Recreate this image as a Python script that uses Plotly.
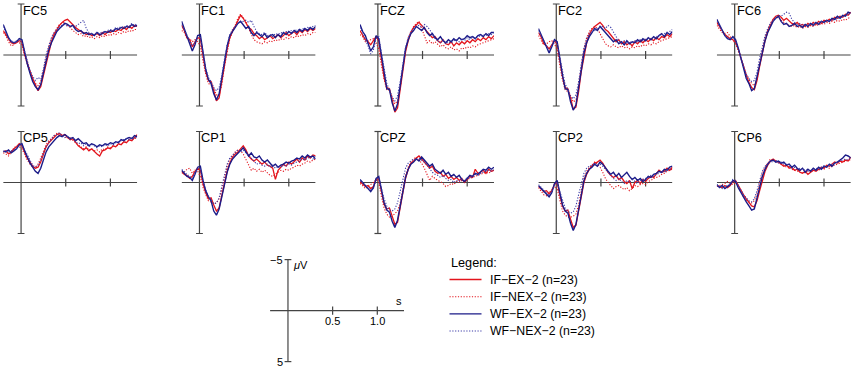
import plotly.graph_objects as go

# ---------------- data ----------------
T = [-0.20, -0.17, -0.14, -0.11, -0.08, -0.05, -0.02, 0.01, 0.04, 0.07, 0.10, 0.13, 0.16,
     0.19, 0.22, 0.25, 0.28, 0.31, 0.34, 0.37, 0.40, 0.43, 0.46, 0.49, 0.52, 0.55, 0.58,
     0.61, 0.64, 0.67, 0.70, 0.73, 0.76, 0.79, 0.82, 0.85, 0.88, 0.91, 0.94, 0.97, 1.00,
     1.03, 1.06, 1.09, 1.12, 1.15, 1.18, 1.21, 1.24, 1.27, 1.30]

CHANNELS = ["FC5", "FC1", "FCZ", "FC2", "FC6", "CP5", "CP1", "CPZ", "CP2", "CP6"]
CONDITIONS = ["IF\u2212EX\u22122 (n=23)", "IF\u2212NEX\u22122 (n=23)",
              "WF\u2212EX\u22122 (n=23)", "WF\u2212NEX\u22122 (n=23)"]

FC5_IF_EX = [-2.4, -2.0, -1.6, -1.2, -1.1, -1.2, -1.4, -1.3, -0.1, 0.8, 1.6, 2.3, 2.9, 3.5, 3.1, 2.0, 0.6, -0.4, -1.3, -2.0, -2.5, -2.9, -3.2, -3.4, -3.5, -3.2, -3.0, -2.7, -2.5, -2.3, -2.2, -2.0, -2.1, -1.9, -2.0, -2.1, -1.9, -2.2, -2.0, -2.3, -2.2, -2.4, -2.3, -2.5, -2.4, -2.7, -2.5, -2.8, -2.6, -2.9, -2.8]
FC5_IF_NEX = [-2.2, -1.9, -1.3, -0.9, -1.0, -1.3, -1.2, -1.0, 0.1, 1.0, 1.7, 2.4, 2.8, 3.0, 2.6, 1.5, 0.2, -0.8, -1.6, -2.2, -2.6, -3.0, -3.1, -3.2, -2.9, -2.7, -2.4, -2.2, -2.0, -2.1, -1.8, -1.9, -1.7, -1.8, -1.6, -1.8, -1.7, -1.9, -1.8, -2.0, -1.9, -2.1, -2.0, -2.2, -2.1, -2.3, -2.2, -2.4, -2.3, -2.5, -2.5]
FC5_WF_EX = [-3.0, -2.3, -1.7, -1.3, -1.2, -1.3, -1.6, -1.5, -0.2, 0.9, 1.8, 2.6, 3.1, 3.4, 2.9, 1.8, 0.4, -0.5, -1.2, -1.8, -2.3, -2.6, -2.9, -3.1, -3.0, -2.8, -2.9, -2.5, -2.3, -2.4, -2.1, -2.2, -2.0, -2.1, -1.9, -2.2, -2.0, -2.1, -2.3, -2.2, -2.4, -2.3, -2.6, -2.5, -2.7, -2.6, -2.8, -2.7, -3.0, -2.8, -2.9]
FC5_WF_NEX = [-2.8, -2.2, -1.6, -1.4, -1.2, -1.4, -1.5, -1.3, -0.3, 0.7, 1.5, 2.1, 2.5, 2.2, 2.4, 1.4, 0.0, -0.9, -1.7, -2.2, -2.5, -2.8, -2.9, -3.0, -2.8, -2.9, -2.7, -2.8, -3.0, -3.2, -3.4, -2.6, -2.2, -2.1, -2.0, -2.2, -2.1, -2.3, -2.2, -2.4, -2.5, -2.4, -2.7, -2.6, -2.8, -2.7, -2.9, -2.8, -3.1, -2.9, -3.1]

FC1_IF_EX = [-2.9, -2.4, -1.7, -1.5, -0.8, -1.2, -1.7, -1.6, 0.2, 1.6, 2.5, 2.6, 3.5, 4.5, 4.2, 2.6, 0.9, -0.6, -1.7, -2.4, -2.8, -3.3, -3.9, -3.6, -3.1, -2.7, -2.5, -2.1, -1.9, -1.6, -1.8, -1.5, -1.7, -1.9, -1.6, -1.8, -2.0, -1.7, -1.9, -2.2, -1.9, -2.1, -2.3, -2.0, -2.4, -2.2, -2.5, -2.3, -2.6, -2.4, -2.6]
FC1_IF_NEX = [-2.4, -2.2, -1.6, -1.6, -1.3, -1.5, -1.3, -0.9, 0.6, 1.9, 2.8, 2.9, 3.3, 3.9, 4.0, 2.9, 1.1, -0.4, -1.6, -2.2, -3.0, -3.6, -4.0, -3.7, -3.3, -2.6, -2.0, -1.5, -1.3, -1.2, -1.1, -1.3, -1.2, -1.4, -1.3, -1.5, -1.4, -1.6, -1.5, -1.7, -1.6, -1.8, -1.7, -1.9, -1.8, -2.0, -1.9, -2.1, -2.0, -2.2, -2.2]
FC1_WF_EX = [-3.3, -2.6, -2.0, -1.3, -0.4, -1.0, -1.9, -2.0, -0.2, 1.4, 2.4, 2.8, 3.8, 4.4, 3.8, 2.3, 0.6, -0.9, -1.9, -2.3, -2.6, -3.1, -3.3, -3.0, -2.6, -2.8, -2.2, -1.9, -2.2, -2.0, -1.8, -2.1, -1.7, -1.9, -2.0, -1.7, -2.0, -1.8, -2.2, -2.0, -2.3, -2.1, -2.4, -2.2, -2.5, -2.3, -2.6, -2.4, -2.7, -2.5, -2.8]
FC1_WF_NEX = [-3.0, -2.5, -1.9, -1.4, -0.9, -1.3, -1.8, -1.7, 0.0, 1.3, 2.2, 2.6, 3.2, 3.5, 3.2, 2.0, 0.4, -1.0, -2.0, -2.5, -2.8, -3.1, -3.2, -3.3, -3.4, -3.2, -3.4, -2.8, -2.3, -2.1, -2.0, -2.2, -1.9, -2.0, -1.8, -2.1, -2.0, -2.2, -2.1, -2.3, -2.2, -2.4, -2.3, -2.5, -2.4, -2.6, -2.5, -2.7, -2.6, -2.8, -2.9]

FCZ_IF_EX = [-2.4, -2.0, -1.5, -1.3, -1.0, -1.4, -1.8, -1.4, 0.6, 2.2, 3.2, 3.3, 4.4, 5.6, 5.2, 3.4, 1.3, -0.3, -1.4, -2.2, -2.7, -3.0, -3.2, -2.9, -2.6, -2.3, -2.0, -1.7, -1.8, -1.4, -1.2, -1.5, -1.1, -1.0, -1.3, -0.9, -1.2, -1.0, -1.3, -1.1, -1.4, -1.2, -1.5, -1.3, -1.6, -1.4, -1.7, -1.5, -1.8, -1.6, -1.9]
FCZ_IF_NEX = [-2.0, -1.8, -1.3, -1.4, -1.5, -1.6, -1.2, -0.6, 1.0, 2.4, 3.4, 3.5, 4.2, 4.8, 4.5, 3.2, 1.2, -0.5, -1.7, -2.3, -2.8, -3.1, -3.3, -2.6, -1.8, -1.2, -1.4, -1.1, -1.3, -1.0, -0.8, -1.0, -0.7, -0.6, -0.8, -0.5, -0.6, -0.4, -0.7, -0.6, -0.8, -0.7, -0.9, -0.8, -1.0, -1.1, -1.2, -1.3, -1.4, -1.5, -1.6]
FCZ_WF_EX = [-3.0, -2.3, -1.9, -1.2, -0.4, -0.8, -1.9, -1.6, 0.2, 1.9, 3.3, 3.4, 4.7, 5.5, 4.8, 3.0, 1.0, -0.6, -1.5, -2.1, -2.4, -2.8, -2.6, -2.4, -2.7, -2.2, -1.9, -2.1, -1.7, -1.5, -1.8, -1.4, -1.2, -1.5, -1.3, -1.6, -1.4, -1.7, -1.5, -1.6, -1.9, -1.7, -1.8, -1.6, -1.9, -2.0, -1.8, -2.1, -1.9, -2.2, -2.2]
FCZ_WF_NEX = [-2.7, -2.2, -1.5, -0.9, -0.1, -0.5, -1.6, -1.8, -0.2, 1.5, 2.8, 3.4, 4.1, 4.5, 4.0, 2.6, 0.7, -0.8, -1.7, -2.3, -2.6, -2.8, -2.9, -2.7, -3.0, -2.8, -2.5, -2.0, -1.6, -1.4, -1.2, -1.4, -1.1, -1.3, -1.2, -1.4, -1.5, -1.3, -1.6, -1.4, -1.7, -1.5, -1.8, -1.6, -1.9, -1.8, -2.0, -1.9, -2.1, -2.0, -2.2]

FC2_IF_EX = [-2.2, -1.8, -1.1, -0.9, -0.6, -1.0, -1.4, -1.1, 0.6, 2.1, 3.2, 3.3, 4.2, 5.3, 5.1, 3.6, 1.6, 0.0, -1.2, -2.0, -2.5, -2.8, -3.0, -3.2, -2.9, -2.5, -2.3, -2.0, -1.6, -1.3, -1.5, -1.1, -1.3, -1.0, -1.2, -0.9, -1.3, -1.1, -1.4, -1.2, -1.5, -1.3, -1.6, -1.4, -1.7, -1.5, -1.8, -1.7, -2.0, -1.8, -2.1]
FC2_IF_NEX = [-1.9, -1.5, -1.0, -1.1, -1.3, -1.4, -1.1, -0.5, 1.2, 2.5, 3.4, 3.6, 4.0, 4.6, 4.4, 3.0, 1.1, -0.6, -1.7, -2.3, -2.6, -2.8, -2.6, -2.1, -1.6, -1.1, -0.9, -0.8, -1.0, -0.8, -0.7, -0.9, -0.7, -0.8, -0.6, -0.8, -0.7, -0.9, -0.8, -1.0, -0.9, -1.1, -1.0, -1.2, -1.1, -1.3, -1.4, -1.5, -1.6, -1.7, -1.8]
FC2_WF_EX = [-2.6, -2.0, -1.4, -0.7, -0.2, -0.8, -1.5, -1.3, 0.4, 2.0, 3.3, 3.4, 4.6, 5.4, 4.9, 3.3, 1.4, -0.2, -1.2, -1.8, -2.2, -2.6, -2.4, -2.8, -2.5, -2.2, -1.9, -1.6, -1.3, -1.5, -1.1, -1.3, -1.0, -1.4, -1.1, -1.3, -1.2, -1.5, -1.3, -1.6, -1.4, -1.7, -1.5, -1.8, -1.6, -1.9, -2.1, -1.8, -2.2, -2.0, -2.3]
FC2_WF_NEX = [-2.4, -1.9, -1.3, -0.9, -0.4, -0.9, -1.4, -1.2, 0.2, 1.6, 2.9, 3.3, 4.0, 4.3, 3.9, 2.6, 0.8, -0.7, -1.6, -2.1, -2.3, -2.4, -2.6, -2.7, -2.8, -2.6, -2.9, -2.7, -2.2, -1.8, -1.4, -1.2, -1.4, -1.1, -1.3, -1.2, -1.4, -1.3, -1.5, -1.4, -1.6, -1.5, -1.7, -1.6, -1.8, -1.9, -2.0, -2.1, -2.2, -2.3, -2.5]

FC6_IF_EX = [-3.2, -2.8, -2.3, -2.0, -1.8, -1.6, -1.5, -1.3, -0.6, 0.3, 1.2, 2.0, 2.7, 3.2, 3.4, 2.5, 1.1, -0.2, -1.4, -2.3, -3.0, -3.5, -3.8, -3.9, -3.7, -3.4, -3.6, -3.3, -3.1, -3.0, -3.2, -2.9, -3.0, -2.8, -3.1, -2.9, -3.2, -3.0, -3.3, -3.1, -3.4, -3.3, -3.5, -3.4, -3.7, -3.6, -3.8, -3.7, -4.0, -3.9, -4.2]
FC6_IF_NEX = [-2.9, -2.6, -2.2, -2.1, -2.2, -1.8, -1.4, -1.1, -0.4, 0.4, 1.2, 1.9, 2.4, 2.8, 3.0, 2.4, 0.8, -0.6, -1.7, -2.5, -3.1, -3.5, -3.6, -3.7, -3.4, -3.2, -3.0, -2.9, -2.8, -2.9, -2.7, -2.8, -2.6, -2.8, -2.7, -2.9, -2.8, -3.0, -2.9, -3.1, -3.0, -3.2, -3.1, -3.3, -3.2, -3.4, -3.3, -3.5, -3.4, -3.6, -3.7]
FC6_WF_EX = [-3.5, -3.0, -2.5, -1.9, -1.6, -1.5, -1.8, -1.5, -0.7, 0.4, 1.5, 2.3, 2.8, 3.5, 3.3, 2.1, 0.8, -0.4, -1.4, -2.2, -2.8, -3.3, -3.6, -3.8, -3.3, -3.0, -3.1, -2.8, -2.9, -3.1, -2.8, -2.9, -2.7, -3.0, -2.8, -3.1, -2.9, -3.2, -3.0, -3.3, -3.2, -3.4, -3.3, -3.6, -3.5, -3.8, -3.6, -3.9, -3.8, -4.2, -4.1]
FC6_WF_NEX = [-3.3, -2.9, -2.4, -1.9, -1.7, -1.6, -1.7, -1.4, -0.6, 0.3, 1.2, 1.9, 2.3, 2.6, 2.5, 1.7, 0.3, -0.9, -1.9, -2.6, -3.1, -3.4, -3.7, -3.9, -3.8, -4.0, -4.2, -4.1, -3.5, -3.2, -3.0, -3.1, -2.9, -3.0, -2.9, -3.1, -3.0, -3.2, -3.1, -3.3, -3.2, -3.4, -3.3, -3.5, -3.4, -3.6, -3.7, -3.8, -3.9, -4.0, -4.1]

CP5_IF_EX = [-3.0, -3.1, -2.8, -3.0, -3.3, -3.5, -3.8, -3.6, -3.0, -2.4, -2.0, -1.6, -1.4, -1.5, -2.0, -2.8, -3.5, -3.9, -4.2, -4.5, -4.7, -4.8, -4.6, -4.7, -4.4, -4.2, -4.3, -3.9, -3.6, -3.4, -3.2, -3.4, -3.1, -3.3, -3.0, -2.8, -2.6, -3.1, -3.2, -3.4, -3.3, -3.6, -3.5, -3.8, -3.7, -4.0, -3.9, -4.2, -4.1, -4.4, -4.7]
CP5_IF_NEX = [-2.9, -2.8, -2.6, -3.0, -3.4, -3.6, -3.5, -3.3, -2.7, -2.2, -1.8, -1.5, -1.5, -1.8, -2.4, -3.1, -3.7, -4.1, -4.3, -4.6, -4.8, -4.6, -4.7, -4.5, -4.3, -4.4, -4.1, -3.9, -3.7, -3.5, -3.3, -3.5, -3.2, -3.3, -3.1, -3.2, -3.0, -3.3, -3.2, -3.5, -3.4, -3.6, -3.5, -3.7, -3.8, -3.9, -4.0, -4.1, -4.2, -4.3, -4.4]
CP5_WF_EX = [-3.1, -3.0, -3.2, -2.9, -3.1, -3.3, -3.7, -3.8, -3.1, -2.5, -1.9, -1.5, -1.1, -0.9, -1.4, -2.2, -3.0, -3.5, -3.8, -4.2, -4.4, -4.6, -4.5, -4.7, -4.5, -4.3, -4.4, -4.1, -4.3, -4.0, -3.8, -3.9, -3.6, -3.8, -3.7, -3.5, -3.7, -3.6, -3.8, -3.7, -3.9, -3.8, -4.0, -3.9, -4.2, -4.1, -4.3, -4.4, -4.3, -4.6, -4.5]
CP5_WF_NEX = [-3.0, -3.1, -3.0, -3.1, -3.2, -3.4, -3.6, -3.7, -3.2, -2.6, -2.1, -1.7, -1.5, -1.7, -2.2, -2.9, -3.5, -3.9, -4.3, -4.6, -4.7, -4.9, -4.6, -4.4, -4.5, -4.2, -4.4, -4.0, -3.8, -3.9, -3.6, -3.8, -3.5, -3.7, -3.6, -3.4, -3.6, -3.5, -3.7, -3.6, -3.8, -3.7, -3.9, -4.0, -4.1, -4.2, -4.3, -4.2, -4.4, -4.3, -4.5]

CP1_IF_EX = [-1.1, -0.8, -0.7, -0.4, -0.6, -1.1, -1.4, -1.2, 0.1, 1.0, 1.6, 1.5, 2.2, 2.8, 2.5, 1.2, 0.0, -1.1, -1.9, -2.5, -2.8, -3.0, -3.3, -3.6, -3.2, -2.6, -2.3, -2.1, -2.3, -2.0, -1.8, -2.0, -1.7, -1.6, -1.4, -0.3, -1.2, -1.5, -1.8, -1.6, -2.0, -1.8, -2.1, -2.3, -2.0, -2.4, -2.2, -2.6, -2.4, -2.7, -2.6]
CP1_IF_NEX = [-0.9, -1.0, -1.3, -1.4, -0.9, -1.2, -1.1, -0.6, 0.5, 1.2, 1.8, 1.9, 2.1, 2.0, 1.6, 0.7, -0.6, -1.6, -2.3, -2.7, -3.0, -3.2, -3.1, -2.8, -2.3, -1.7, -1.2, -1.4, -1.1, -1.3, -1.0, -1.2, -0.9, -0.7, -0.6, -0.8, -1.0, -1.2, -1.1, -1.3, -1.2, -1.4, -1.5, -1.7, -1.6, -1.8, -1.9, -2.1, -2.0, -2.2, -2.3]
CP1_WF_EX = [-1.2, -0.9, -0.6, -0.5, -0.2, -0.8, -1.5, -1.6, -0.2, 0.8, 1.4, 1.8, 2.8, 3.2, 2.6, 1.4, 0.2, -1.0, -1.8, -2.3, -2.6, -2.9, -3.1, -3.4, -3.0, -2.6, -2.9, -2.5, -2.4, -2.6, -2.2, -2.0, -2.2, -1.9, -1.6, -1.8, -1.5, -1.7, -1.8, -2.0, -1.9, -2.1, -2.2, -2.4, -2.3, -2.6, -2.4, -2.7, -2.5, -2.6, -2.3]
CP1_WF_NEX = [-1.3, -1.0, -0.8, -0.6, -0.4, -1.0, -1.4, -1.3, -0.1, 0.7, 1.3, 1.7, 2.1, 2.0, 1.5, 0.4, -0.8, -1.8, -2.4, -2.7, -2.9, -3.2, -3.0, -3.2, -2.9, -2.7, -2.4, -2.1, -1.8, -1.9, -1.7, -1.6, -1.8, -1.5, -1.7, -1.4, -1.6, -1.5, -1.7, -1.6, -1.8, -1.7, -1.9, -2.0, -2.1, -2.3, -2.2, -2.4, -2.5, -2.3, -2.6]

CPZ_IF_EX = [-0.1, 0.2, 0.4, 0.3, 0.6, 0.4, -0.3, -0.4, 1.0, 2.1, 2.6, 2.5, 3.3, 4.1, 3.9, 2.6, 1.0, -0.4, -1.3, -1.9, -2.1, -2.4, -2.6, -2.3, -2.0, -1.7, -1.4, -1.6, -1.1, -0.9, -1.0, -0.6, -0.8, -0.4, -0.6, -0.3, -0.5, -0.2, -0.4, 0.0, -0.3, -0.6, -0.5, -1.3, -0.9, -1.0, -1.2, -0.9, -1.3, -1.1, -1.2]
CPZ_IF_NEX = [0.1, 0.3, 0.6, 0.4, 0.2, 0.0, -0.3, 0.0, 1.4, 2.5, 3.1, 3.4, 3.3, 3.0, 2.8, 2.0, 0.6, -0.7, -1.5, -2.0, -2.3, -2.5, -2.2, -1.9, -1.4, -0.8, -0.2, -0.6, -0.4, -0.2, -0.1, 0.1, 0.4, 0.3, 0.1, 0.2, -0.1, 0.0, -0.2, -0.1, -0.3, -0.4, -0.5, -0.6, -0.7, -0.8, -0.9, -1.0, -0.9, -1.1, -1.2]
CPZ_WF_EX = [-0.3, 0.0, 0.3, 0.6, 0.9, 0.5, -0.4, -0.6, 0.8, 2.0, 2.7, 2.9, 3.8, 4.4, 3.7, 2.3, 0.8, -0.5, -1.3, -1.8, -2.0, -2.3, -2.1, -2.5, -2.2, -1.9, -1.6, -1.8, -1.3, -1.1, -0.9, -1.2, -0.8, -1.0, -0.6, -0.8, -0.5, -0.7, -0.3, -0.1, -0.4, -0.7, -0.6, -0.9, -0.8, -1.1, -1.3, -1.2, -1.5, -1.3, -1.5]
CPZ_WF_NEX = [-0.2, 0.1, 0.3, 0.5, 0.7, 0.6, -0.2, -0.5, 0.6, 1.6, 2.3, 2.7, 2.8, 2.6, 2.0, 0.9, -0.4, -1.4, -1.9, -2.1, -2.3, -2.2, -2.4, -2.2, -2.0, -1.7, -1.3, -1.0, -0.8, -0.7, -0.5, -0.7, -0.4, -0.2, -0.3, 0.0, -0.2, -0.1, -0.3, -0.2, -0.5, -0.4, -0.6, -0.8, -0.7, -0.9, -1.0, -1.1, -1.2, -1.1, -1.3]

CP2_IF_EX = [0.4, 0.6, 0.9, 0.8, 1.1, 0.8, 0.2, 0.0, 1.2, 2.3, 2.8, 2.7, 3.6, 4.4, 4.2, 2.9, 1.3, 0.0, -0.8, -1.3, -1.6, -1.9, -2.0, -2.2, -1.9, -1.4, -1.0, -0.7, -0.5, -0.7, -0.3, -0.5, -0.1, 0.1, -0.2, 0.6, 0.0, -0.2, 0.1, -0.3, -0.1, -0.4, -0.6, -0.5, -0.8, -1.2, -1.0, -1.1, -1.4, -1.2, -1.5]
CP2_IF_NEX = [0.5, 0.9, 1.2, 1.3, 1.0, 0.7, 0.4, 0.6, 1.8, 2.8, 3.2, 3.4, 3.4, 3.3, 3.1, 2.2, 0.8, -0.4, -1.1, -1.5, -1.7, -2.0, -1.8, -1.5, -1.0, -0.4, 0.0, 0.3, 0.6, 0.4, 0.3, 0.5, 0.7, 0.5, 0.8, 0.6, 0.3, 0.4, 0.2, 0.1, 0.2, -0.1, -0.2, -0.4, -0.5, -0.6, -0.8, -0.9, -1.1, -1.2, -1.3]
CP2_WF_EX = [0.3, 0.6, 0.8, 1.1, 1.4, 1.0, 0.1, -0.2, 1.0, 2.2, 2.8, 3.0, 4.0, 4.7, 4.1, 2.6, 1.0, -0.2, -0.9, -1.3, -1.5, -1.8, -1.6, -2.0, -1.8, -1.4, -1.1, -0.8, -1.0, -0.6, -0.9, -0.5, -0.8, -1.0, -0.6, -0.3, -0.5, -0.2, -0.4, -0.1, -0.3, -0.6, -0.5, -0.8, -0.9, -1.1, -1.0, -1.3, -1.2, -1.5, -1.6]
CP2_WF_NEX = [0.2, 0.5, 0.8, 1.0, 1.2, 0.9, 0.2, 0.0, 0.9, 1.8, 2.5, 2.8, 3.0, 2.9, 2.3, 1.2, 0.0, -0.9, -1.4, -1.6, -1.7, -1.9, -1.7, -1.8, -1.6, -1.3, -1.0, -0.6, -0.4, -0.2, -0.4, -0.1, 0.1, -0.2, 0.0, -0.3, -0.1, 0.1, -0.2, -0.3, -0.4, -0.5, -0.7, -0.6, -0.8, -0.9, -1.1, -1.0, -1.2, -1.3, -1.4]

CP6_IF_EX = [0.3, 0.4, 0.5, 0.3, 0.5, 0.3, -0.1, -0.2, 0.3, 0.8, 1.2, 1.6, 2.0, 2.3, 2.4, 1.8, 0.8, -0.3, -1.1, -1.7, -2.1, -2.3, -2.1, -2.0, -1.8, -1.6, -1.7, -1.4, -1.5, -1.2, -1.3, -1.0, -0.9, -1.1, -0.8, -1.0, -1.2, -1.1, -1.3, -1.5, -1.4, -1.7, -1.6, -1.8, -2.0, -1.9, -2.1, -2.0, -2.2, -2.1, -2.5]
CP6_IF_NEX = [0.4, 0.3, 0.2, 0.1, -0.1, 0.1, 0.2, 0.0, 0.4, 0.9, 1.4, 1.7, 1.9, 2.0, 1.8, 1.1, 0.0, -0.9, -1.5, -1.9, -2.3, -2.2, -2.0, -2.1, -1.8, -1.7, -1.5, -1.6, -1.3, -1.2, -1.1, -1.2, -0.9, -1.0, -1.1, -1.2, -1.1, -1.3, -1.2, -1.4, -1.3, -1.5, -1.4, -1.6, -1.7, -1.8, -1.9, -2.0, -2.1, -2.2, -2.2]
CP6_WF_EX = [0.2, 0.5, 0.3, 0.6, 0.4, 0.2, -0.2, -0.1, 0.5, 1.0, 1.5, 1.9, 2.3, 2.7, 2.6, 1.6, 0.5, -0.6, -1.3, -1.8, -2.1, -2.2, -2.0, -2.1, -1.9, -2.0, -1.7, -1.8, -1.5, -1.7, -1.4, -1.2, -1.4, -1.0, -1.3, -1.1, -1.4, -1.2, -1.5, -1.3, -1.6, -1.5, -1.8, -1.6, -1.9, -2.0, -2.2, -2.4, -2.7, -2.6, -2.4]
CP6_WF_NEX = [0.3, 0.4, 0.6, 0.4, 0.3, 0.1, -0.3, -0.2, 0.3, 0.8, 1.2, 1.5, 1.8, 1.9, 1.6, 0.8, -0.3, -1.1, -1.6, -1.9, -2.1, -2.0, -2.2, -1.9, -2.0, -1.8, -1.9, -1.6, -1.4, -1.5, -1.3, -1.4, -1.2, -1.3, -1.1, -1.2, -1.3, -1.4, -1.3, -1.5, -1.6, -1.5, -1.7, -1.8, -1.9, -2.0, -2.1, -2.2, -2.3, -2.2, -2.4]

SERIES = {
    "FC5": [FC5_IF_EX, FC5_IF_NEX, FC5_WF_EX, FC5_WF_NEX],
    "FC1": [FC1_IF_EX, FC1_IF_NEX, FC1_WF_EX, FC1_WF_NEX],
    "FCZ": [FCZ_IF_EX, FCZ_IF_NEX, FCZ_WF_EX, FCZ_WF_NEX],
    "FC2": [FC2_IF_EX, FC2_IF_NEX, FC2_WF_EX, FC2_WF_NEX],
    "FC6": [FC6_IF_EX, FC6_IF_NEX, FC6_WF_EX, FC6_WF_NEX],
    "CP5": [CP5_IF_EX, CP5_IF_NEX, CP5_WF_EX, CP5_WF_NEX],
    "CP1": [CP1_IF_EX, CP1_IF_NEX, CP1_WF_EX, CP1_WF_NEX],
    "CPZ": [CPZ_IF_EX, CPZ_IF_NEX, CPZ_WF_EX, CPZ_WF_NEX],
    "CP2": [CP2_IF_EX, CP2_IF_NEX, CP2_WF_EX, CP2_WF_NEX],
    "CP6": [CP6_IF_EX, CP6_IF_NEX, CP6_WF_EX, CP6_WF_NEX],
}

X_TICKS = [0.5, 1.0]
X_TICK_LABELS = ["0.5", "1.0"]
Y_LIMITS = [-5, 5]
Y_LIMIT_LABELS = ["\u22125", "5"]

# ---------------- styles / geometry ----------------
W, H = 855, 369
FONT = "Liberation Sans, Arial, Helvetica, sans-serif"
RED = "#e3141c"
BLUE = "#1b1b88"
DOT = "1.2px,1.6px"
STYLES = [
    dict(color=RED, width=1.3, dash="solid"),
    dict(color=RED, width=1.1, dash=DOT),
    dict(color=BLUE, width=1.4, dash="solid"),
    dict(color="#3a3aa6", width=1.1, dash=DOT),
]
AXCOL = "#444444"
XR = [-0.2, 1.3]
PW = 134.0
PXV = 10.2
COL_L = [3.2, 181.6, 360.0, 538.4, 716.8]
ROWS = [  # (top px, bottom px, zero px)
    (0.0, 118.0, 55.0),
    (121.0, 247.0, 182.5),
]
SCALE = dict(left=270.1, top=250.0, bot=369.0, zero=310.6)
LABEL_SIZE = 12.8
TICK_SIZE = 11
LEG_SIZE = 12.3

fig = go.Figure()
layout = dict(
    width=W, height=H, margin=dict(l=0, r=0, t=0, b=0),
    paper_bgcolor="white", plot_bgcolor="rgba(0,0,0,0)",
    showlegend=False, font=dict(family=FONT, color="black"),
)
shapes = []
annotations = []


def add_axes(k, left, top, bot, zero):
    sfx = "" if k == 1 else str(k)
    layout["xaxis" + sfx] = dict(domain=[left / W, (left + PW) / W], range=XR, visible=False,
                                 anchor="y" + sfx, fixedrange=True)
    layout["yaxis" + sfx] = dict(domain=[1 - bot / H, 1 - top / H],
                                 range=[(bot - zero) / PXV, (top - zero) / PXV],
                                 visible=False, anchor="x" + sfx, fixedrange=True)
    xr, yr = "x" + sfx, "y" + sfx
    ln = dict(color=AXCOL, width=1.2)
    # vertical amplitude axis with end caps
    shapes.append(dict(type="line", xref=xr, yref=yr, x0=0, x1=0, y0=Y_LIMITS[0], y1=Y_LIMITS[1],
                       line=ln, layer="below"))
    for yl in Y_LIMITS:
        shapes.append(dict(type="line", xref=xr, yref=yr, x0=-0.038, x1=0.038, y0=yl, y1=yl,
                           line=ln, layer="below"))
    # horizontal time axis with ticks
    shapes.append(dict(type="line", xref=xr, yref=yr, x0=XR[0], x1=XR[1], y0=0, y1=0,
                       line=ln, layer="below"))
    for tx in X_TICKS:
        shapes.append(dict(type="line", xref=xr, yref=yr, x0=tx, x1=tx, y0=-0.4, y1=0.4,
                           line=ln, layer="below"))
    return xr, yr


k = 0
for ci, ch in enumerate(CHANNELS):
    k += 1
    r = ROWS[ci // 5]
    xr, yr = add_axes(k, COL_L[ci % 5], r[0], r[1], r[2])
    for si, vals in enumerate(SERIES[ch]):
        st = STYLES[si]
        fig.add_trace(go.Scatter(x=T, y=vals, mode="lines", xaxis=xr, yaxis=yr,
                                 name=CONDITIONS[si], hoverinfo="skip",
                                 line=dict(color=st["color"], width=st["width"], dash=st["dash"])))
    annotations.append(dict(text=ch, x=0, y=Y_LIMITS[0], xref=xr, yref=yr, xanchor="left",
                            yanchor="top", showarrow=False, xshift=0, yshift=3.5,
                            font=dict(size=LABEL_SIZE, color="black")))

# scale panel
k += 1
xr, yr = add_axes(k, SCALE["left"], SCALE["top"], SCALE["bot"], SCALE["zero"])
fig.add_trace(go.Scatter(x=[None], y=[None], xaxis=xr, yaxis=yr, mode="lines",
                         hoverinfo="skip", showlegend=False))
for tx, tl in zip(X_TICKS, X_TICK_LABELS):
    annotations.append(dict(text=tl, x=tx, y=1.05, xref=xr, yref=yr, xanchor="center",
                            yanchor="middle", showarrow=False, font=dict(size=TICK_SIZE)))
for yl, tl in zip(Y_LIMITS, Y_LIMIT_LABELS):
    annotations.append(dict(text=tl, x=0, y=yl, xref=xr, yref=yr, xanchor="right",
                            yanchor="middle", showarrow=False, xshift=-3, font=dict(size=TICK_SIZE)))
annotations.append(dict(text="<i>\u03bc</i>V", x=0, y=-4.5, xref=xr, yref=yr, xanchor="left",
                        yanchor="middle", showarrow=False, xshift=3, font=dict(size=TICK_SIZE)))
annotations.append(dict(text="s", x=XR[1], y=-0.95, xref=xr, yref=yr, xanchor="right",
                        yanchor="middle", showarrow=False, font=dict(size=TICK_SIZE)))

# legend (drawn manually)
LEG_X0, LEG_X1, LEG_TX = 449.5, 481.5, 488.5
LEG_TITLE_Y = 262.7
LEG_ROWS_Y = [279.5, 296.8, 313.9, 331.0]
annotations.append(dict(text="Legend:", x=LEG_X0 / W, y=1 - LEG_TITLE_Y / H, xref="paper",
                        yref="paper", xanchor="left", yanchor="middle", showarrow=False,
                        xshift=-1, font=dict(size=LEG_SIZE + 0.4)))
for si, name in enumerate(CONDITIONS):
    st = STYLES[si]
    yy = 1 - LEG_ROWS_Y[si] / H
    shapes.append(dict(type="line", xref="paper", yref="paper", x0=LEG_X0 / W, x1=LEG_X1 / W,
                       y0=yy, y1=yy, line=dict(color=st["color"], width=st["width"], dash=st["dash"])))
    annotations.append(dict(text=name, x=LEG_TX / W, y=yy, xref="paper", yref="paper",
                            xanchor="left", yanchor="middle", showarrow=False, xshift=-1,
                            font=dict(size=LEG_SIZE)))

layout["shapes"] = shapes
layout["annotations"] = annotations
fig.update_layout(**layout)
fig.write_html("out.html", config={"displayModeBar": False, "staticPlot": True},
               post_script="document.body.style.margin='0px';document.body.style.overflow='hidden';")
